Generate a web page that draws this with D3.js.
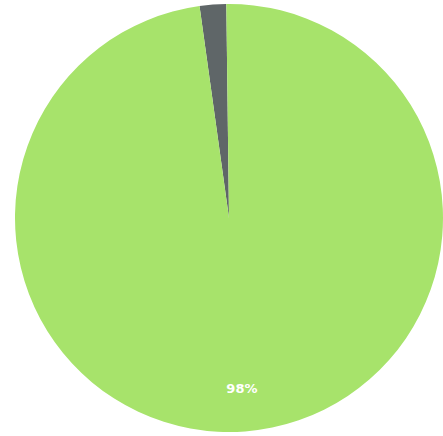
<!DOCTYPE html>
<html>
<head>
<meta charset="utf-8">
<script src="https://cdn.jsdelivr.net/npm/d3@7"></script>
<style>
  html, body { margin: 0; padding: 0; background: #ffffff; }
  svg { display: block; }
</style>
</head>
<body>
<svg id="chart" width="443" height="436"></svg>
<script>
const categories = ["Other", "Main"];
const values = [2, 98];
const labels = ["", "98%"];
const colors = ["#5f6668", "#a7e36b"];

const svg = d3.select("#chart");
const cx = 229, cy = 218, radius = 214;
const g = svg.append("g").attr("transform", `translate(${cx},${cy})`);

const startA = -0.022 * 2 * Math.PI;
const pie = d3.pie().sort(null).value(d => d.value)
  .startAngle(startA)
  .endAngle(startA + 2 * Math.PI);
const data = categories.map((c, i) => ({ name: c, value: values[i], label: labels[i], color: colors[i] }));
const arcs = pie(data);
const arc = d3.arc().innerRadius(0).outerRadius(radius);
const labelArc = d3.arc().innerRadius(radius * 0.8).outerRadius(radius * 0.8);

g.selectAll("path.slice").data(arcs).join("path")
  .attr("class", "slice")
  .attr("d", arc)
  .attr("fill", d => d.data.color);

g.selectAll("text.lbl").data(arcs.filter(d => d.data.label)).join("text")
  .attr("class", "lbl")
  .attr("transform", d => `translate(${labelArc.centroid(d)})`)
  .attr("text-anchor", "middle")
  .attr("dominant-baseline", "central")
  .attr("fill", "#ffffff")
  .attr("font-family", "'DejaVu Sans', sans-serif")
  .attr("font-weight", "bold")
  .attr("font-size", 13)
  .text(d => d.data.label);
</script>
</body>
</html>
